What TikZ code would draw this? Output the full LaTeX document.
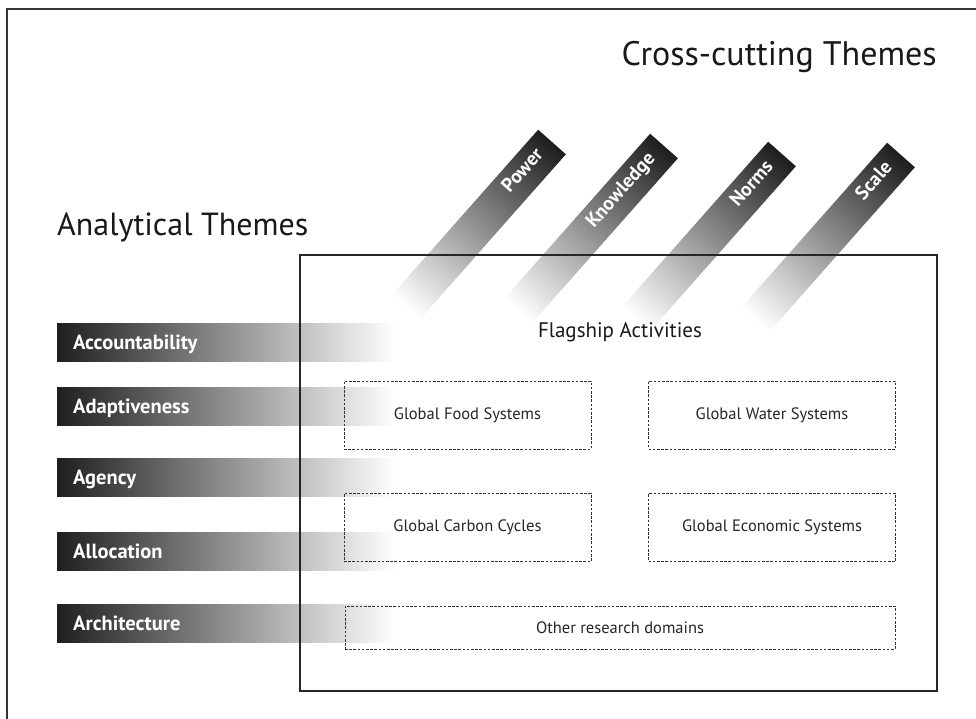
\documentclass[tikz,border=0pt]{standalone}
\usepackage{fontspec}
\setmainfont{PT Sans}
\begin{document}
\begin{tikzpicture}[x=1pt,y=-1pt,
  frameline/.style={line width=2pt, draw=black!80},
  boxline/.style={draw=black!85, line width=1.2pt},
  dashbox/.style={draw=black!80, line width=0.9pt, dash pattern=on 2.6pt off 1.6pt,
     minimum width=247pt, minimum height=68pt, inner sep=0pt,
     font=\fontsize{16.5}{16.5}\selectfont, text=black!85},
  hbar/.style={left color=black!88, right color=white},
  hlabel/.style={anchor=base west, inner sep=0pt, text=white,
     font=\bfseries\fontsize{20.5}{20.5}\selectfont},
  dlabel/.style={anchor=east, rotate=48.5, inner sep=0pt, text=white,
     text height=0.75em, text depth=0.22em,
     font=\bfseries\fontsize{19.5}{19.5}\selectfont},
  title/.style={inner sep=0pt, text=black!90, font=\fontsize{32}{32}\selectfont},
  subtitle/.style={inner sep=0pt, text=black!90, font=\fontsize{21}{21}\selectfont}
]
\useasboundingbox (0,0) rectangle (976,719);
\fill[white] (0,0) rectangle (976,719);
% outer frame (cropped)
\draw[frameline] (976,9) -- (7,9) -- (7,719);

% horizontal analytical theme bars
\foreach \yy/\nm/\txt in {342/acc/Accountability, 406/ada/Adaptiveness, 477/age/Agency, 551/all/Allocation, 623/arc/Architecture}{
  \shade[hbar] (57,\yy-19) rectangle (395,\yy+19);
  \node[hlabel] (\nm) at (73,\yy+7) {\txt};
}

% diagonal cross-cutting theme bars
\foreach \cx/\cy/\nm/\txt in {552/142/pow/Power, 664/146/kno/Knowledge, 782/154/nor/Norms, 901/155/sca/Scale}{
  \begin{scope}[shift={(\cx,\cy)}, rotate=228.5]
    \foreach \i in {0,...,73}{
      \pgfmathsetmacro\p{88*(1-\i/73)}
      \fill[black!\p] (\i*3,-18.5) rectangle (\i*3+3.6,18.5);
    }
    \node[dlabel] (\nm) at (15,0) {\txt};
  \end{scope}
}

% inner box
\node[boxline, minimum width=637pt, minimum height=436pt, inner sep=0pt] (inner) at (618.5,473) {};

% titles
\node[title, anchor=base east, font=\fontsize{34}{34}\selectfont] (cross) at (937,66) {Cross-cutting Themes};
\node[title, anchor=base west] (anal) at (57,236) {Analytical Themes};
\node[subtitle, anchor=base] (flag) at (620,337) {Flagship Activities};

% flagship activity boxes
\node[dashbox] (food) at (467.5,415) {Global Food Systems};
\node[dashbox] (water) at (772,415) {Global Water Systems};
\node[dashbox] (carbon) at (467.5,527.5) {Global Carbon Cycles};
\node[dashbox] (econ) at (772,527.5) {Global Economic Systems};
\node[dashbox, minimum width=550pt, minimum height=43pt] (other) at (620,627.5) {Other research domains};
\end{tikzpicture}
\end{document}
